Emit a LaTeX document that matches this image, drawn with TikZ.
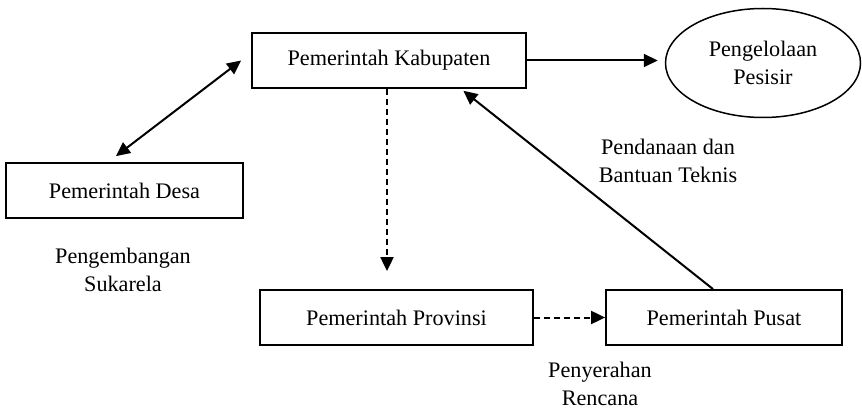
\documentclass[tikz,border=0pt]{standalone}
\usepackage{fontspec}
\setmainfont{Liberation Serif}
\usetikzlibrary{arrows.meta,shapes.geometric}

\begin{document}
\begin{tikzpicture}[x=1pt, y=1pt,
  font=\fontsize{22.2}{28}\selectfont,
  box/.style={draw, line width=1.8pt, minimum height=55pt, inner sep=0pt},
  tip/.style={Triangle[length=14pt,width=13pt]},
  link/.style={line width=2pt, -{Triangle[length=14pt,width=13pt]}},
  dlink/.style={link, dash pattern=on 6pt off 4pt}]

\useasboundingbox (0,0) rectangle (862,410);

% the five actors
\node[box, minimum width=274pt] (kab) at (389,349.5) {Pemerintah Kabupaten};
\node[box, minimum width=237pt] (desa) at (124.5,219.5) {Pemerintah Desa};
\node[box, minimum width=273pt] (prov) at (396.5,92.5) {Pemerintah Provinsi};
\node[box, minimum width=236pt] (pusat) at (724,92.5) {Pemerintah Pusat};
\node[draw, ellipse, line width=1.5pt, minimum width=195pt, minimum height=109pt,
      inner sep=0pt, align=center] (pesisir) at (763,347) {Pengelolaan\\Pesisir};

% kabupaten to pesisir
\draw[link, shorten >=7pt] (kab.east) -- (kab.east -| pesisir.west);

% desa <-> kabupaten
\draw[link, {Triangle[length=14pt,width=13pt]}-{Triangle[length=14pt,width=13pt]}]
  ([shift={(-8.5,6)}]desa.north) -- ([xshift=-10]kab.west);

% kabupaten down to provinsi
\draw[dlink, shorten >=18pt] ([xshift=-2]kab.south) -- ([xshift=-2]kab.south |- prov.north);

% provinsi to pusat
\draw[dlink] (prov.east) -- (pusat.west);

% pusat back to kabupaten
\draw[link, shorten >=3pt] ([xshift=-11]pusat.north) -- ([xshift=72]kab.south);

% labels
\node[align=center] (sukarela) at (123,140) {Pengembangan\\Sukarela};
\node[align=center] (dana) at (668,249) {Pendanaan dan\\Bantuan Teknis};
\node[align=center] (rencana) at (600,26) {Penyerahan\\Rencana};

\end{tikzpicture}
\end{document}
